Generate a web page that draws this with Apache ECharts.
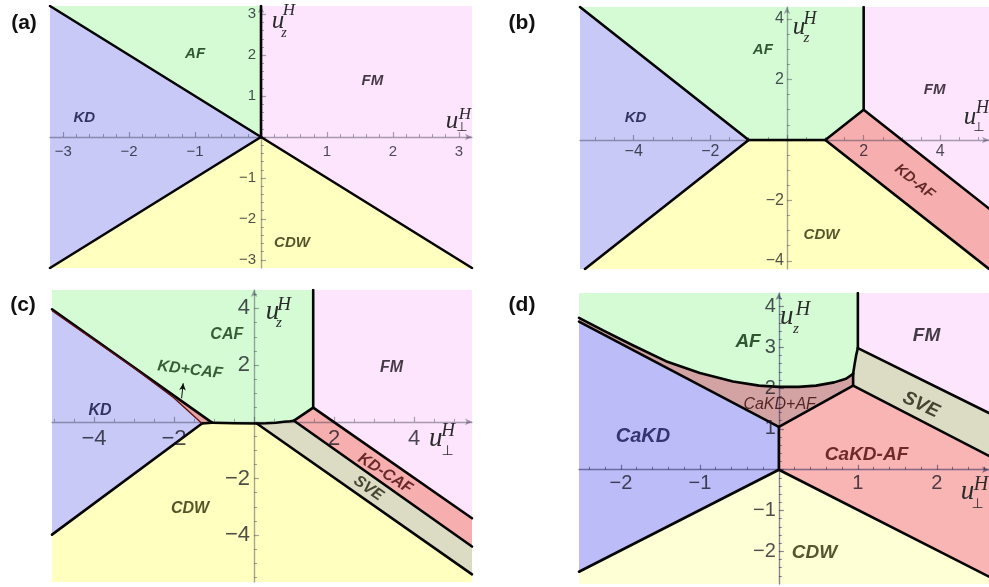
<!DOCTYPE html>
<html><head><meta charset="utf-8">
<script src="https://cdn.jsdelivr.net/npm/echarts@6.0.0/dist/echarts.min.js"></script>
<style>html,body{margin:0;padding:0;background:#fff}#c{width:989px;height:587px}</style>
</head><body><div id="c"></div>
<script>
// ---------- Panel (a) ----------
const aXRange = [-3.2, 3.2];
const aYRange = [-3.2, 3.2];
const aXTicks = [-3, -2, -1, 1, 2, 3];
const aYTicks = [-3, -2, -1, 1, 2, 3];
const aKD  = [[-3.2, 3.2], [0, 0], [-3.2, -3.2]];
const aAF  = [[-3.2, 3.2], [0, 3.2], [0, 0]];
const aFM  = [[0, 3.2], [3.2, 3.2], [3.2, -3.2], [0, 0]];
const aCDW = [[0, 0], [3.2, -3.2], [-3.2, -3.2]];
const aLines = [[[-3.2, 3.2], [0, 0]], [[0, 0], [0, 3.2]], [[0, 0], [-3.2, -3.2]], [[0, 0], [3.2, -3.2]]];
const aLabels = [['KD', -2.68, 0.47], ['AF', -1.0, 2.02], ['FM', 1.69, 1.37], ['CDW', 0.47, -2.58]];

// ---------- Panel (b) ----------
const bXRange = [-5.4, 5.27];
const bYRange = [-4.27, 4.4];
const bXTicks = [-4, -2, 2, 4];
const bYTicks = [-4, -2, 2, 4];
const bKD   = [[-5.4, 4.4], [-1, 0], [-5.27, -4.27], [-5.4, -4.27]];
const bAF   = [[-5.4, 4.4], [2, 4.4], [2, 1], [1, 0], [-1, 0]];
const bFM   = [[2, 4.4], [5.27, 4.4], [5.27, -2.27], [2, 1]];
const bKDAF = [[2, 1], [5.27, -2.27], [5.27, -4.27], [1, 0]];
const bCDW  = [[-1, 0], [1, 0], [5.27, -4.27], [-5.27, -4.27]];
const bLines = [[[-5.4, 4.4], [-1, 0], [1, 0], [2, 1], [2, 4.4]], [[-1, 0], [-5.27, -4.27]], [[1, 0], [5.27, -4.27]], [[2, 1], [5.27, -2.27]]];
const bLabels = [['KD', -3.95, 0.74], ['AF', -0.63, 2.97], ['FM', 3.85, 1.67], ['KD-AF', 3.33, -1.38], ['CDW', 0.9, -3.14]];

// ---------- Panel (c) ----------
const cXRange = [-5.05, 5.45];
const cYRange = [-5.65, 4.65];
const cXTicks = [-4, -2, 2, 4];
const cYTicks = [-4, -2, 2, 4];
const cCafBottom = [[-1.05, -0.03], [-0.5, -0.05], [0.07, -0.06], [0.3, -0.05], [0.55, -0.03], [0.75, 0.0], [0.9, 0.02], [1.0, 0.04]];
const cSliverTop = [[-5.05, 3.97], [-1.05, -0.03]];
const cSliverLow = [[-5.05, 3.92], [-3, 1.9], [-2, 0.84], [-1.3, -0.06]];
const cKdCdw = [[-1.3, -0.06], [-5.05, -3.98]];
const cCafFm = [[1.0, 0.04], [1.48, 0.5], [1.48, 4.65]];
const cFmKdcaf = [[1.48, 0.5], [5.45, -3.4]];
const cKdcafSve = [[1.0, 0.04], [5.45, -4.4]];
const cSveCdw = [[0.07, -0.06], [5.45, -5.38]];
const cArrow = [[-1.81, 0.83], [-1.77, 1.36]];
const cLabels = [['CAF', -0.68, 3.06], ['KD+CAF', -1.6, 1.83], ['KD', -3.85, 0.41], ['FM', 3.44, 1.92], ['CDW', -1.6, -3.06], ['KD-CAF', 3.28, -1.82], ['SVE', 2.86, -2.35]];

// ---------- Panel (d) ----------
const dXRange = [-2.53, 2.66];
const dYRange = [-2.8, 4.33];
const dXTicks = [-2, -1, 1, 2];
const dYTicks = [-2, -1, 1, 2, 3, 4];
const dAfBottom = [[-2.53, 3.72], [-2.2, 3.39], [-1.85, 3.05], [-1.43, 2.66], [-1.0, 2.37], [-0.58, 2.16], [-0.25, 2.06], [0, 2.03], [0.25, 2.03], [0.47, 2.06], [0.7, 2.14], [0.85, 2.23], [0.94, 2.35]];
const dAfSve = [[0.94, 2.35], [0.96, 2.6], [0.98, 2.82], [1.0, 2.98]];
const dAfFm = [[1.0, 2.98], [1.0, 4.33]];
const dFmSve = [[1.0, 2.98], [2.66, 1.39]];
const dSveCakdaf = [[0.94, 2.06], [2.66, 0.34]];
const dMixSve = [[0.94, 2.35], [0.94, 2.06]];
const dMixCakdaf = [[0, 1.05], [0.94, 2.06]];
const dCakdMix = [[0, 1.05], [-2.53, 3.63]];
const dCakdCakdaf = [[0, 0], [0, 1.05]];
const dCakdCdw = [[0, 0], [-2.53, -2.5]];
const dCdwCakdaf = [[0, 0], [2.66, -2.62]];
const dLabels = [['AF', -0.39, 3.13], ['FM', 1.87, 3.27], ['SVE', 1.8, 1.59], ['CaKD+AF', 0.01, 1.59], ['CaKD', -1.72, 0.82], ['CaKD-AF', 1.11, 0.37], ['CDW', 0.45, -2.04]];

// ---------- polygons assembled from the boundaries ----------
const rev = a => a.slice().reverse();
const cKD = cSliverLow.concat([cKdCdw[1]]);
const cKDCAF = cSliverTop.concat([[-1.3, -0.06]], rev(cSliverLow).slice(1));
const cCAF = [[-5.05, 4.65], [1.48, 4.65], [1.48, 0.5]].concat(rev(cCafBottom), [cSliverTop[0]]);
const cFM = [[1.48, 4.65], [5.45, 4.65], cFmKdcaf[1], cFmKdcaf[0]];
const cKDCAF2 = [cFmKdcaf[0], cFmKdcaf[1], cKdcafSve[1], cKdcafSve[0]];
const cSVE = [cKdcafSve[0], cKdcafSve[1], cSveCdw[1]].concat(cCafBottom.slice(2, 7));
const cCDW = [cKdCdw[1], [-1.3, -0.06]].concat(cCafBottom.slice(0, 3), [cSveCdw[1], [5.45, -5.65], [-5.05, -5.65]]);

const dAF = [[-2.53, 4.33], [1.0, 4.33]].concat(rev(dAfSve), rev(dAfBottom).slice(1));
const dFM = [[1.0, 4.33], [2.66, 4.33], dFmSve[1], dFmSve[0]];
const dSVE = [dFmSve[0], dFmSve[1], dSveCakdaf[1], dSveCakdaf[0]].concat(dAfSve.slice(0, 3));
const dMIX = dAfBottom.concat([dSveCakdaf[0], [0, 1.05], dCakdMix[1]]);
const dCAKDAF = [[0, 1.05], dSveCakdaf[0], dSveCakdaf[1], dCdwCakdaf[1], [0, 0]];
const dCAKD = [dCakdMix[1], [0, 1.05], [0, 0], dCakdCdw[1]];
const dCDW = [[0, 0], dCdwCakdaf[1], [2.66, -2.8], [-2.53, -2.8], dCakdCdw[1]];

// ---------- styles ----------
const FILL = {KD:'#c9c9f7', AF:'#d5fbd5', FM:'#fde6fd', CDW:'#ffffc0', KDAF:'#f6aeae', SVE:'#dcdcc4',
  KDCAF:'#e8a2a2', CaKD:'#bcbcf8', CaKDAF:'#f9b4b4', MIX:'#d3a2a2', CDWd:'#ffffd6'};
const TXT = {'KD':'#0e0e3c', 'AF':'#082c08', 'CAF':'#0c360c', 'KD+CAF':'#0c340c', 'FM':'#160e16', 'CDW':'#2a2a06',
  'KD-AF':'#3c0606', 'KD-CAF':'#420606', 'SVE':'#1e1e0c', 'CaKD':'#12124e', 'CaKD-AF':'#480606', 'CaKD+AF':'#320606'};

const panels = [
  {grid:{left:50, top:6, width:422, height:262}, x:aXRange, y:aYRange, xt:aXTicks, yt:aYTicks, xs:6, ys:6, xm:5, ym:5,
   tickFont:15, labFont:15, xMargin:7, yMargin:5, axisCol:'rgba(60,60,85,0.45)',
   regions:[[aKD,FILL.KD],[aAF,FILL.AF],[aFM,FILL.FM],[aCDW,FILL.CDW]], lines:aLines, labels:aLabels, rot:{}},
  {grid:{left:580, top:7, width:409, height:262}, x:bXRange, y:bYRange, xt:bXTicks, yt:bYTicks, xs:5, ys:4, xm:4, ym:4,
   tickFont:16, labFont:15, xMargin:4, yMargin:3, axisCol:'rgba(60,60,85,0.45)',
   regions:[[bKD,FILL.KD],[bAF,FILL.AF],[bFM,FILL.FM],[bKDAF,FILL.KDAF],[bCDW,FILL.CDW]], lines:bLines, labels:bLabels, rot:{'KD-AF':-39}},
  {grid:{left:52, top:290, width:420, height:292}, x:cXRange, y:cYRange, xt:cXTicks, yt:cYTicks, xs:5, ys:5, xm:4, ym:4,
   tickFont:22, labFont:16, xMargin:6, yMargin:4, axisCol:'rgba(60,60,85,0.45)',
   regions:[[cKD,FILL.KD],[cKDCAF,FILL.KDCAF],[cCAF,FILL.AF],[cFM,FILL.FM],[cKDCAF2,FILL.KDAF],[cSVE,FILL.SVE],[cCDW,FILL.CDW]],
   lines:[cSliverTop, cKdCdw, [[-1.3,-0.06],[-1.05,-0.03]], cCafBottom, cCafFm, cFmKdcaf, cKdcafSve, cSveCdw],
   thin:[cSliverLow], labels:cLabels, rot:{'KD-CAF':-33, 'SVE':-35, 'KD+CAF':-7}, arrow:cArrow},
  {grid:{left:579, top:293, width:410, height:291}, x:dXRange, y:dYRange, xt:dXTicks, yt:dYTicks, xs:5, ys:7, xm:5, ym:5,
   tickFont:20, labFont:19, xMargin:4, yMargin:3, axisCol:'rgba(40,40,90,0.55)',
   regions:[[dAF,FILL.AF],[dFM,FILL.FM],[dSVE,FILL.SVE],[dMIX,FILL.MIX],[dCAKDAF,FILL.CaKDAF],[dCAKD,FILL.CaKD],[dCDW,FILL.CDWd]],
   lines:[dAfBottom, dAfSve, dAfFm, dFmSve, dSveCakdaf, dMixSve, dMixCakdaf, dCakdMix, dCakdCakdaf, dCakdCdw, dCdwCakdaf],
   labels:dLabels, rot:{'SVE':-25}, small:{'CaKD+AF':16, 'CaKD':20}}
];

const fmtNum = v => (v < 0 ? '\u2212' + Math.abs(v) : String(v));
const grids = [], xAxes = [], yAxes = [], series = [];
panels.forEach((p, gi) => {
  grids.push(Object.assign({show:false, containLabel:false, outerBoundsMode:'none'}, p.grid));
  const mk = (range, ticks, split, minor) => ({
    type:'value', gridIndex:gi, min:range[0], max:range[1], splitNumber:split, z:5,
    axisLine:{show:true, onZero:true, symbol:['none','arrow'], symbolSize:[5,7], lineStyle:{color:p.axisCol, width:1.4}},
    axisTick:{show:true, inside:true, length:5, customValues:ticks.concat([0]), lineStyle:{color:p.axisCol, width:1.2}},
    minorTick:{show:true, splitNumber:minor, length:3, lineStyle:{color:p.axisCol, width:1}},
    axisLabel:{show:false},
    splitLine:{show:false}, minorSplitLine:{show:false}
  });
  xAxes.push(mk(p.x, p.xt, p.xs, p.xm));
  yAxes.push(mk(p.y, p.yt, p.ys, p.ym));
  p.regions.forEach(([pts, color]) => {
    series.push({type:'custom', xAxisIndex:gi, yAxisIndex:gi, z:1, silent:true, clip:true, data:pts,
      renderItem:(params, api) => params.dataIndex !== 0 ? null :
        {type:'polygon', shape:{points:pts.map(q => api.coord(q))}, style:{fill:color, stroke:color, lineWidth:0.6}}});
  });
  p.lines.forEach(pts => series.push({type:'line', xAxisIndex:gi, yAxisIndex:gi, data:pts, symbol:'none', z:6, silent:true,
    lineStyle:{color:'#050505', width:2.6, cap:'round', join:'round'}}));
  (p.thin || []).forEach(pts => series.push({type:'line', xAxisIndex:gi, yAxisIndex:gi, data:pts, symbol:'none', z:6, silent:true,
    lineStyle:{color:'#5a1010', width:1.3}}));
  if (p.arrow) {
    series.push({type:'line', xAxisIndex:gi, yAxisIndex:gi, z:7, silent:true, symbol:'none', showSymbol:true,
      lineStyle:{color:'#111', width:1},
      data:[{value:p.arrow[0]}, {value:p.arrow[1], symbol:'arrow', symbolSize:[5,7], symbolRotate:-6, itemStyle:{color:'#111'}}]});
  }
  // tick labels placed on the axis lines through the coordinate system
  const tl = {show:true, fontSize:p.tickFont, color:'rgba(20,20,30,0.95)', textBorderWidth:0,
    fontFamily:'Liberation Sans, Arial, sans-serif'};
  series.push({type:'scatter', xAxisIndex:gi, yAxisIndex:gi, z:7, silent:true, symbolSize:0, clip:false,
    data:p.xt.map(t => ({value:[t, 0], label:Object.assign({position:'bottom', distance:p.xMargin, formatter:fmtNum(t)}, tl)}))
      .concat(p.yt.map(t => ({value:[0, t], label:Object.assign({position:'left', distance:p.yMargin, formatter:fmtNum(t)}, tl)})))});
  series.push({type:'scatter', xAxisIndex:gi, yAxisIndex:gi, z:8, silent:true, symbolSize:0,
    data:p.labels.map(l => ({value:[l[1], l[2]], label:{show:true, position:'inside', formatter:l[0],
      rotate:p.rot[l[0]] || 0, color:TXT[l[0]], textBorderWidth:0,
      fontSize:(p.small && p.small[l[0]]) || p.labFont,
      fontWeight: l[0] === 'CaKD+AF' ? 'normal' : 'bold', fontStyle:'italic',
      fontFamily:'Liberation Sans, Arial, sans-serif'}}))});
});

// ---------- text: panel letters and axis names ----------
const gfx = [];
const txt = (x, y, s, font, color) => gfx.push({type:'text', x:x, y:y, z:100,
  style:{text:s, font:font, fill:color || '#111', align:'center', verticalAlign:'middle', textAlign:'center', textVerticalAlign:'middle'}});
[['(a)', 24, 23], ['(b)', 522, 23], ['(c)', 23, 305], ['(d)', 522, 305]].forEach(t =>
  txt(t[1], t[2], t[0], 'bold 21px "Liberation Sans", Arial, sans-serif', '#111'));
const serif = s => 'italic ' + s + 'px "Liberation Serif", "DejaVu Serif", serif';
const uName = (ux, uy, hx, hy, sx, sy, sub, us, hs, ss) => {
  txt(ux, uy, 'u', serif(us), '#2a2a2a');
  txt(hx, hy, 'H', serif(hs), '#2a2a2a');
  txt(sx, sy, sub, sub === 'z' ? serif(ss) : ss + 'px "DejaVu Sans", sans-serif', '#2a2a2a');
};
uName(278, 21.5, 289, 11, 284, 33, 'z', 25, 17, 14);
uName(452, 121.5, 465, 115, 462, 127.5, '\u22A5', 25, 17, 13);
uName(799, 27, 810, 19, 806.5, 38, 'z', 25, 18, 15);
uName(970, 117, 982.5, 108, 979, 127.5, '\u22A5', 25, 18, 13);
uName(272.5, 312, 284, 305, 279, 323, 'z', 27, 19, 15);
uName(435.7, 439, 448, 431, 447.5, 451.7, '\u22A5', 27, 19, 14);
uName(786.7, 317, 803, 310, 796, 329, 'z', 27, 20, 15);
uName(967.5, 492, 981, 485, 977.5, 504, '\u22A5', 27, 20, 14);

const chart = echarts.init(document.getElementById('c'), null, {renderer:'canvas'});
chart.setOption({animation:false, backgroundColor:'#fff', grid:grids, xAxis:xAxes, yAxis:yAxes, series:series, graphic:gfx});
</script></body></html>
